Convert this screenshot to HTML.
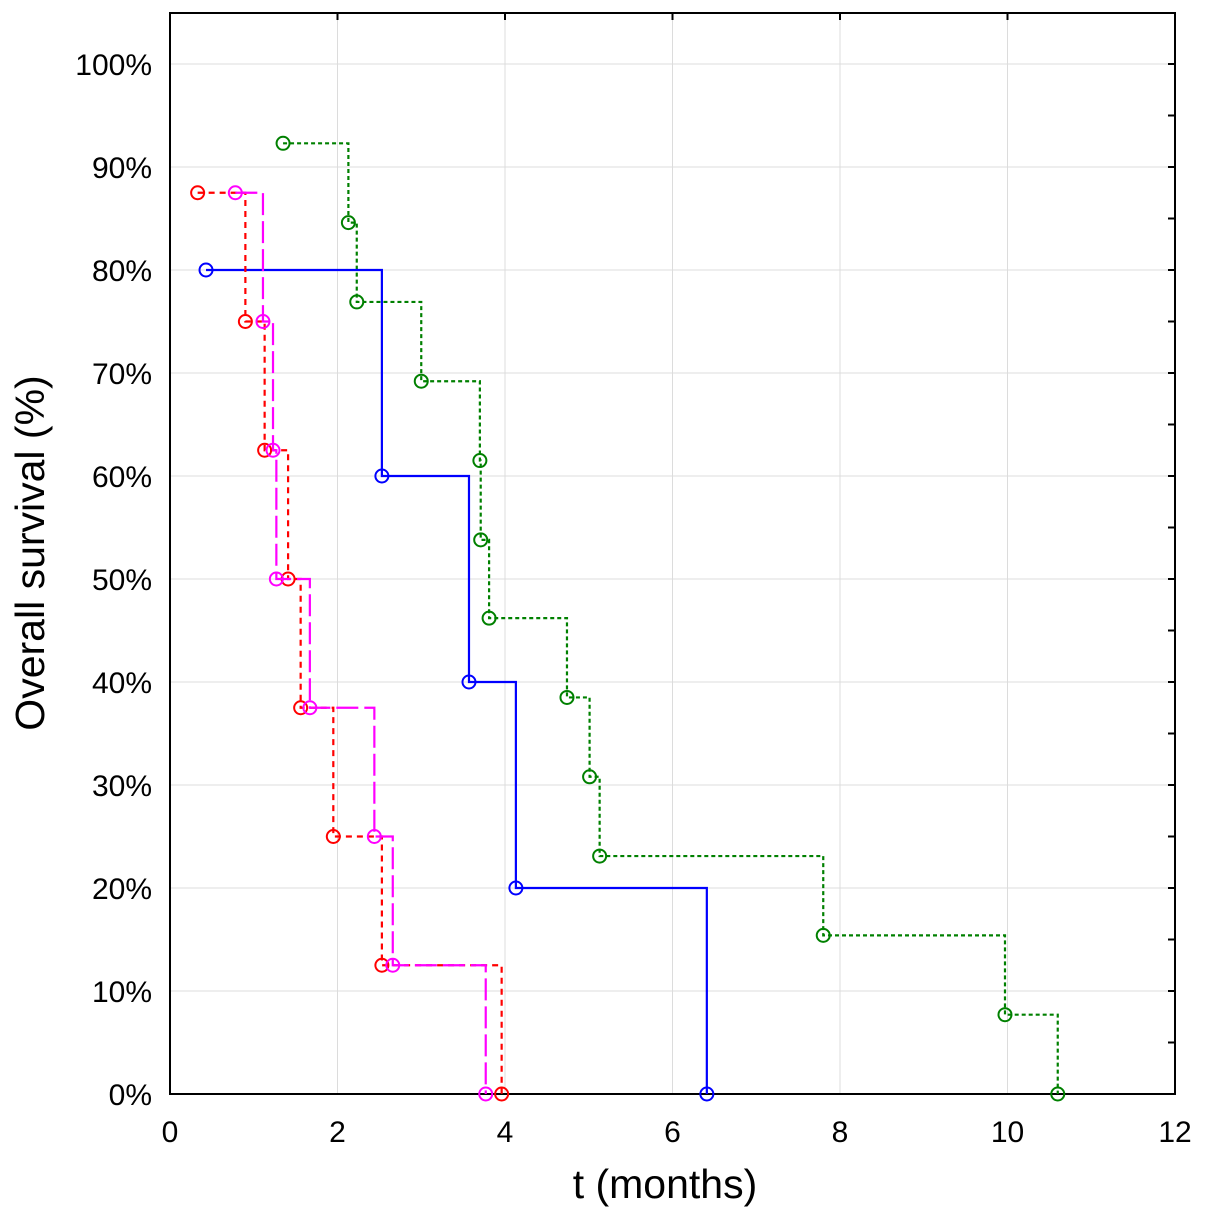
<!DOCTYPE html>
<html><head><meta charset="utf-8"><style>
body{margin:0;background:#fff}
svg{display:block;font-family:"Liberation Sans",Arial,sans-serif}
</style></head><body>
<svg id="chart" width="1205" height="1219" viewBox="0 0 1205 1219">
<g id="grid"></g>
<g id="axes"></g>
<g id="series"></g>
<text x="665" y="1198" font-size="41" text-anchor="middle">t (months)</text>
<text transform="translate(44,553) rotate(-90)" font-size="41" text-anchor="middle">Overall survival (%)</text>
</svg>
<script>
const xTicks=[0,2,4,6,8,10,12];
const yTicks=[0,10,20,30,40,50,60,70,80,90,100];
const greenT=[1.35,2.13,2.23,3.0,3.7,3.71,3.81,4.74,5.01,5.13,7.8,9.97,10.6];
const greenS=[92.3,84.6,76.9,69.2,61.5,53.8,46.2,38.5,30.8,23.1,15.4,7.7,0];
const blueT=[0.43,2.53,3.57,4.13,6.41];
const blueS=[80,60,40,20,0];
const redT=[0.33,0.9,1.13,1.41,1.56,1.95,2.53,3.96];
const redS=[87.5,75,62.5,50,37.5,25,12.5,0];
const magT=[0.78,1.11,1.23,1.27,1.67,2.44,2.66,3.77];
const magS=[87.5,75,62.5,50,37.5,25,12.5,0];
const L=170,R=1175,T=13,B=1094;
const xs=v=>L+v*(R-L)/12;
const ys=v=>1094-v*10.3;
const NS="http://www.w3.org/2000/svg";
function mk(tag,attrs,parent){const e=document.createElementNS(NS,tag);for(const k in attrs)e.setAttribute(k,attrs[k]);parent.appendChild(e);return e;}
const grid=document.getElementById('grid'),axes=document.getElementById('axes'),ser=document.getElementById('series');
xTicks.forEach(t=>{
  const l=mk('line',{x1:xs(t),x2:xs(t),y1:T,y2:B,stroke:'#dcdcdc','stroke-width':1},grid);
  
  
  const tx=mk('text',{x:xs(t),y:1142,'font-size':30,'text-anchor':'middle'},axes);
  tx.textContent=t;
  
  
  mk('line',{x1:xs(t),x2:xs(t),y1:T,y2:T+7,stroke:'#000','stroke-width':2},axes);
});
yTicks.forEach(t=>{
  const l=mk('line',{x1:L,x2:R,y1:ys(t),y2:ys(t),stroke:'#dcdcdc','stroke-width':1},grid);
  
  
  const tx=mk('text',{x:152,y:ys(t)+11,'font-size':30,'text-anchor':'end'},axes);
  tx.textContent=t+'%';
  
  
  mk('line',{x1:R-7,x2:R,y1:ys(t),y2:ys(t),stroke:'#000','stroke-width':2},axes);
  if(t<100){mk('line',{x1:R-7,x2:R,y1:ys(t+5),y2:ys(t+5),stroke:'#000','stroke-width':2},axes);}
});
const fr=mk('rect',{x:L,y:T,width:R-L,height:B-T,fill:'none',stroke:'#000','stroke-width':2},axes);


function draw(ts,ss,color,dash,name){
  let d='M'+xs(ts[0])+','+ys(ss[0]);
  for(let i=1;i<ts.length;i++){d+=' H'+xs(ts[i])+' V'+ys(ss[i]);}
  const p=mk('path',{d:d,fill:'none',stroke:color,'stroke-width':2.2,'stroke-dasharray':dash},ser);
  
  
  ts.forEach((t,i)=>{
    const c=mk('circle',{cx:xs(t),cy:ys(ss[i]),r:6.5,fill:'none',stroke:color,'stroke-width':2},ser);
    
    
  });
}
draw(greenT,greenS,'#008000','4 3','green-series');
draw(blueT,blueS,'#0000ff','none','blue-series');
draw(redT,redS,'#ff0000','6 5','red-series');
draw(magT,magS,'#ff00ff','22 6','magenta-series');
</script>
</body></html>
